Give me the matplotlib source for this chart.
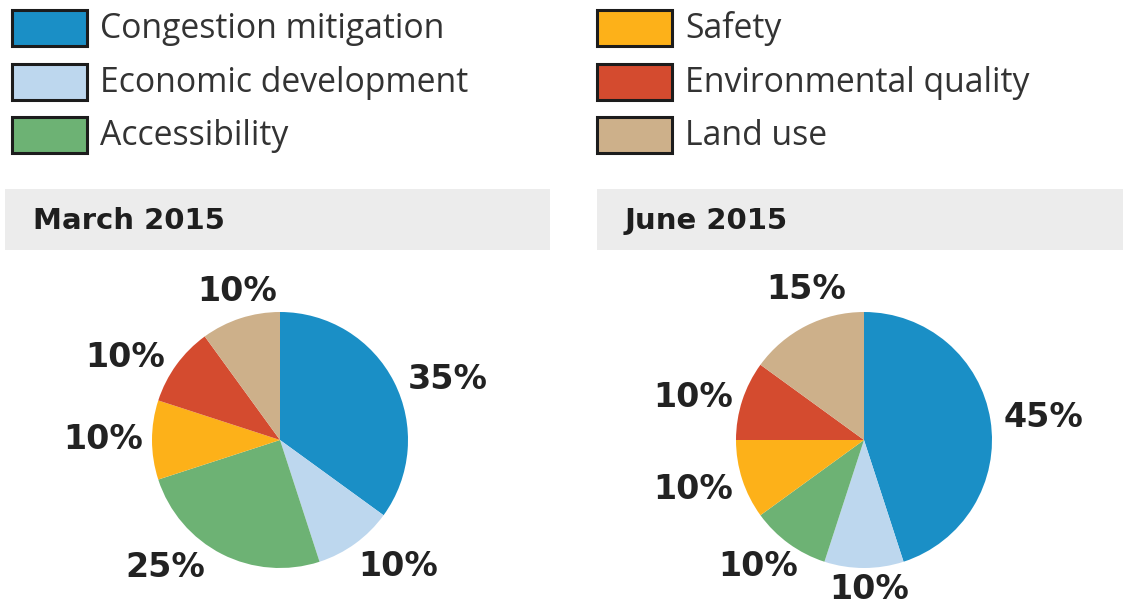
import numpy as np
import matplotlib
matplotlib.use("Agg")
import matplotlib.pyplot as plt
from matplotlib.patches import Rectangle

# data
categories = ["Congestion mitigation", "Economic development", "Accessibility",
              "Safety", "Environmental quality", "Land use"]
colors = ["#1a8fc6", "#bdd7ee", "#6db274", "#fdb119", "#d44b2f", "#cdb08a"]
march_2015 = [35, 10, 25, 10, 10, 10]
june_2015 = [45, 10, 10, 10, 10, 15]
panel_titles = ["March 2015", "June 2015"]

# label placement: (angle shift from wedge middle in degrees, distance in px)
march_labels = [(-7, 178), (7, 173), (-15, 171), (0, 177), (8, 175), (-2, 154)]
june_labels = [(-2, 181), (2, 150), (-4, 165), (-2, 178), (4, 176), (-6, 161)]

W, H = 1123, 608
fig = plt.figure(figsize=(W / 100, H / 100), dpi=100)
ax = fig.add_axes([0, 0, 1, 1])


def Y(y):
    # image pixel row -> axes y
    return H - y


# legend, two columns of three
legend_x = [12, 597]
legend_rows = [28, 82, 135]
for i, (cat, col) in enumerate(zip(categories, colors)):
    bx = legend_x[i // 3]
    by = legend_rows[i % 3]
    ax.add_patch(Rectangle((bx, Y(by) - 18), 75, 36, facecolor=col,
                           edgecolor="#1c1c1c", lw=2.2))
    ax.text(bx + 88, Y(by) - 1, cat, fontsize=24.3, family="Open Sans",
            color="#333333", va="center", ha="left")

# headers
header_x = [(5, 550), (597, 1123)]
for (x0, x1), title in zip(header_x, panel_titles):
    ax.add_patch(Rectangle((x0, Y(250)), x1 - x0, 61, facecolor="#ececec",
                           edgecolor="none"))
    ax.text(x0 + 28, Y(221), title, fontsize=21, fontweight="bold",
            family="DejaVu Sans", color="#1e1e1e", va="center", ha="left")

# pies
centers = [(280, 440), (864, 440)]
R = 128
for (cx, cy), vals, lab in zip(centers, [march_2015, june_2015],
                               [march_labels, june_labels]):
    wedges, _ = ax.pie(vals, colors=colors, startangle=90, counterclock=False,
                       center=(cx, Y(cy)), radius=R, frame=True,
                       wedgeprops=dict(linewidth=0))
    for w, v, (shift, dist) in zip(wedges, vals, lab):
        mid = np.deg2rad((w.theta1 + w.theta2) / 2 + shift)
        ax.text(cx + dist * np.cos(mid), Y(cy) + dist * np.sin(mid), f"{v}%",
                fontsize=24, fontweight="bold", color="#222222",
                ha="center", va="center")

ax.set_xlim(0, W)
ax.set_ylim(0, H)
ax.set_aspect("auto")
ax.axis("off")

fig.savefig("out.png", dpi=100, facecolor="white")
